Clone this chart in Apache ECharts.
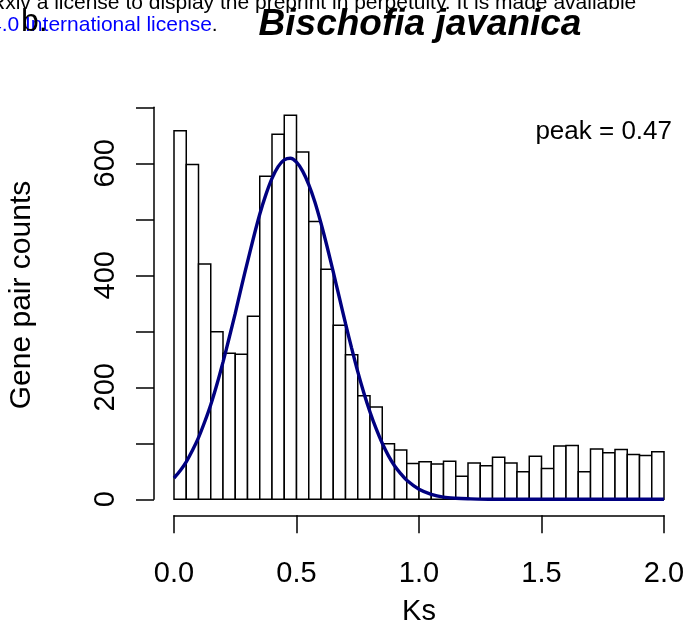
<!DOCTYPE html>
<html>
<head>
<meta charset="utf-8">
<script src="https://cdn.jsdelivr.net/npm/echarts@6/dist/echarts.min.js"></script>
<style>
html,body{margin:0;padding:0;background:#fff;}
#chart{width:694px;height:644px;}
</style>
</head>
<body>
<div id="chart"></div>
<script>
// Histogram bins (Ks, width 0.05) and counts
var binStart = [0.00,0.05,0.10,0.15,0.20,0.25,0.30,0.35,0.40,0.45,
                0.50,0.55,0.60,0.65,0.70,0.75,0.80,0.85,0.90,0.95,
                1.00,1.05,1.10,1.15,1.20,1.25,1.30,1.35,1.40,1.45,
                1.50,1.55,1.60,1.65,1.70,1.75,1.80,1.85,1.90,1.95];
var binWidth = 0.05;
var counts = [658,598,420,299,261,259,327,577,652,686,
              620,496,411,311,258,185,165,99,88,64,
              67,63,68,41,65,60,75,65,49,77,
              55,95,96,49,90,83,89,80,78,85];
// Fitted curve, points
var curveKs = [0,0.025,0.05,0.075,0.1,0.125,0.15,0.175,0.2,0.225,0.25,0.275,0.3,0.325,0.35,0.375,0.4,0.425,0.45,0.475,
               0.5,0.525,0.55,0.575,0.6,0.625,0.65,0.675,0.7,0.725,0.75,0.775,0.8,0.825,0.85,0.875,0.9,0.925,0.95,
               1.0,1.05,1.1,1.15,1.2,1.3,1.5,2.0];
var curveCounts = [38,51,67,87,110,138,169,205,245,288,332,379,424,468,509,544,573,594,606,609,
                   602,586,562,531,493,451,406,360,314,270,228,190,156,126,100,78,60,46,34,
                   18,9,4,2,1,0,0,0];
var xTicks = [0.0,0.5,1.0,1.5,2.0];
var yLabelValues = [0,200,400,600];
var peakText = 'peak = 0.47';
var titleText = 'Bischofia javanica';

var FONT = '"Liberation Sans", Arial, Helvetica, sans-serif';
var chart = echarts.init(document.getElementById('chart'), null, {renderer:'canvas'});

var barData = binStart.map(function(s,i){ return [s, s+binWidth, counts[i]]; });
var curveData = curveKs.map(function(k,i){ return [k, curveCounts[i]]; });

var option = {
  animation:false,
  backgroundColor:'#ffffff',
  grid:{left:174, right:30, top:107.3, bottom:144.7, containLabel:false},
  xAxis:{
    type:'value', min:0, max:2, interval:0.5,
    offset:16,
    axisLine:{show:true, onZero:false, lineStyle:{color:'#000', width:1.5}},
    axisTick:{show:true, length:18, lineStyle:{color:'#000', width:1.5}},
    axisLabel:{fontSize:29, fontFamily:FONT, color:'#000', margin:44,
      formatter:function(v){ return xTicks.indexOf(v) >= 0 ? v.toFixed(1) : ''; }},
    splitLine:{show:false}
  },
  yAxis:{
    type:'value', min:0, max:700, interval:100,
    offset:20,
    axisLine:{show:true, onZero:false, lineStyle:{color:'#000', width:1.5}},
    axisTick:{show:true, length:18, lineStyle:{color:'#000', width:1.5}},
    axisLabel:{fontSize:29, fontFamily:FONT, color:'#000', rotate:90, margin:34,
      formatter:function(v){ return yLabelValues.indexOf(v) >= 0 ? String(v) : ''; }},
    splitLine:{show:false}
  },
  series:[
    {
      type:'custom',
      data:barData,
      clip:false,
      renderItem:function(params, api){
        var p0 = api.coord([api.value(0), api.value(2)]);
        var p1 = api.coord([api.value(1), 0]);
        return {
          type:'rect',
          shape:{x:p0[0], y:p0[1], width:p1[0]-p0[0], height:p1[1]-p0[1]},
          style:{fill:'#ffffff', stroke:'#000000', lineWidth:1.5}
        };
      },
      z:1
    },
    {
      type:'line',
      data:curveData,
      smooth:0.3,
      showSymbol:false,
      symbol:'none',
      lineStyle:{color:'#000080', width:3.4},
      z:3
    }
  ],
  graphic:[
    {type:'text', x:-10, y:3, z:10, style:{text:'Rxiv a license to display the preprint in perpetuity. It is made available', fontSize:21, fontFamily:FONT, fill:'#000', align:'left', verticalAlign:'middle'}},
    {type:'text', x:-10, y:25, z:10, style:{text:'{b|4.0 International license}{k|.}', fontSize:21, fontFamily:FONT, align:'left', verticalAlign:'middle',
      rich:{b:{fill:'#0000ff', fontSize:21, fontFamily:FONT}, k:{fill:'#000', fontSize:21, fontFamily:FONT}}}},
    {type:'text', x:21, y:22, z:11, style:{text:'b.', fontSize:32, fontFamily:FONT, fill:'#000', align:'left', verticalAlign:'middle'}},
    {type:'text', x:420, y:25, z:10, style:{text:titleText, fontSize:37, fontWeight:'bold', fontStyle:'italic', fontFamily:FONT, fill:'#000', align:'center', verticalAlign:'middle'}},
    {type:'text', x:672, y:132, z:10, style:{text:peakText, fontSize:26, fontFamily:FONT, fill:'#000', align:'right', verticalAlign:'middle'}},
    {type:'text', x:419, y:612, z:10, style:{text:'Ks', fontSize:29, fontFamily:FONT, fill:'#000', align:'center', verticalAlign:'middle'}},
    {type:'text', x:22, y:295, rotation:Math.PI/2, z:10, style:{text:'Gene pair counts', fontSize:30, fontFamily:FONT, fill:'#000', align:'center', verticalAlign:'middle'}}
  ]
};
chart.setOption(option);
</script>
</body>
</html>
